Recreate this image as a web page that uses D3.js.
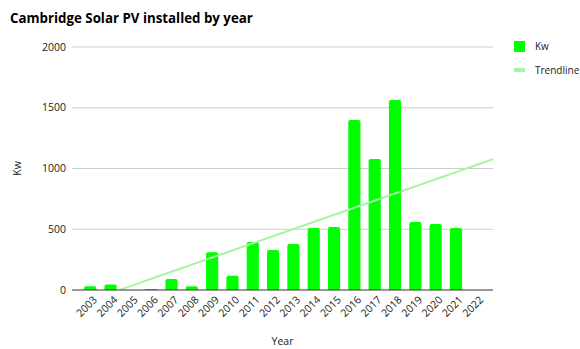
<!DOCTYPE html>
<html>
<head>
<meta charset="utf-8">
<script src="https://cdn.jsdelivr.net/npm/d3@7"></script>
<style>
  body { margin: 0; background: #fff; }
  text { font-family: "Open Sans", "DejaVu Sans", sans-serif; fill: #222; }
</style>
</head>
<body>
<div id="chart"></div>
<script>
// data
var years = ["2003","2004","2005","2006","2007","2008","2009","2010","2011","2012",
             "2013","2014","2015","2016","2017","2018","2019","2020","2021","2022"];
var kw = [30, 45, 0, 8, 90, 30, 310, 118, 395, 330,
          378, 510, 518, 1400, 1078, 1564, 560, 543, 510, null];
var yTicks = [0, 500, 1000, 1500, 2000];

var width = 580, height = 349;
var plot = {left: 72, right: 493, top: 47, bottom: 290};

var svg = d3.select("#chart").append("svg")
  .attr("width", width)
  .attr("height", height);

// x scale
var x = d3.scaleBand()
  .domain(years)
  .range([76, 490.5])
  .padding(0.4);

// y scale
var y = d3.scaleLinear()
  .domain([0, 2000])
  .range([plot.bottom, plot.top]);

// gridlines
svg.append("g")
  .selectAll("line")
  .data(yTicks.slice(1))
  .enter()
  .append("line")
    .attr("x1", plot.left)
    .attr("x2", plot.right)
    .attr("y1", function(d) { return y(d); })
    .attr("y2", function(d) { return y(d); })
    .attr("stroke", "#cccccc")
    .attr("stroke-width", 1);

// y tick labels
svg.append("g")
  .selectAll("text")
  .data(yTicks)
  .enter()
  .append("text")
    .attr("x", plot.left - 6)
    .attr("y", function(d) { return y(d); })
    .attr("dy", "0.35em")
    .attr("text-anchor", "end")
    .style("font-size", "10.5px")
    .text(function(d) { return d; });

// bars
var barData = [];
years.forEach(function(v, i) {
  if (kw[i] != null && kw[i] > 0) barData.push({year: v, value: kw[i]});
});

svg.append("g")
  .selectAll("path")
  .data(barData)
  .enter()
  .append("path")
    .attr("fill", "#00ff00")
    .attr("d", function(d) {
      var x0 = x(d.year), w = x.bandwidth();
      var y0 = y(d.value), y1 = y(0);
      var r = Math.min(2, (y1 - y0) / 2);
      return "M" + x0 + "," + y1 +
        "V" + (y0 + r) +
        "Q" + x0 + "," + y0 + " " + (x0 + r) + "," + y0 +
        "H" + (x0 + w - r) +
        "Q" + (x0 + w) + "," + y0 + " " + (x0 + w) + "," + (y0 + r) +
        "V" + y1 + "Z";
    });

// linear trendline (least squares over the years that have data)
var pts = [];
kw.forEach(function(v, i) { if (v != null) pts.push([i, v]); });
var mx = d3.mean(pts, function(p) { return p[0]; });
var my = d3.mean(pts, function(p) { return p[1]; });
var sxy = d3.sum(pts, function(p) { return (p[0] - mx) * (p[1] - my); });
var sxx = d3.sum(pts, function(p) { return (p[0] - mx) * (p[0] - mx); });
var slope = sxy / sxx, intercept = my - slope * mx;

var step = x.step();
var xCenter0 = x(years[0]) + x.bandwidth() / 2;
function idxAt(px) { return (px - xCenter0) / step; }
var trend = d3.range(plot.left, plot.right + 0.5, 1).map(function(px) {
  return [px, intercept + slope * idxAt(px)];
}).filter(function(p) { return p[1] >= 0; });

svg.append("path")
  .datum(trend)
  .attr("fill", "none")
  .attr("stroke", "#a6f5a0")
  .attr("stroke-width", 2)
  .attr("d", d3.line()
    .x(function(d) { return d[0]; })
    .y(function(d) { return y(d[1]); }));

// baseline
svg.append("line")
  .attr("x1", plot.left)
  .attr("x2", plot.right)
  .attr("y1", plot.bottom)
  .attr("y2", plot.bottom)
  .attr("stroke", "#333")
  .attr("stroke-width", 1);

// x tick labels
svg.append("g")
  .selectAll("text")
  .data(years)
  .enter()
  .append("text")
    .attr("transform", function(d) {
      return "translate(" + (x(d) + x.bandwidth() / 2 + 5) + "," + (plot.bottom + 8) + ") rotate(-45)";
    })
    .attr("text-anchor", "end")
    .attr("dy", "0.35em")
    .style("font-size", "10.5px")
    .text(function(d) { return d; });

// title
svg.append("text")
  .attr("x", 10)
  .attr("y", 23)
  .style("font-size", "13.3px")
  .style("font-weight", "bold")
  .style("fill", "#000")
  .text("Cambridge Solar PV installed by year");

// axis titles
svg.append("text")
  .attr("transform", "translate(21," + ((plot.top + plot.bottom) / 2) + ") rotate(-90)")
  .attr("text-anchor", "middle")
  .style("font-size", "10.5px")
  .text("Kw");

svg.append("text")
  .attr("x", (plot.left + plot.right) / 2)
  .attr("y", 345)
  .attr("text-anchor", "middle")
  .style("font-size", "10.5px")
  .text("Year");

// legend
var legend = svg.append("g").attr("transform", "translate(514,41)");
legend.append("rect")
  .attr("x", 0).attr("y", 0)
  .attr("width", 11).attr("height", 11)
  .attr("fill", "#00ff00");
legend.append("text")
  .attr("x", 21).attr("y", 5.5).attr("dy", "0.35em")
  .style("font-size", "10px")
  .text("Kw");
legend.append("line")
  .attr("x1", 0).attr("x2", 11)
  .attr("y1", 29).attr("y2", 29)
  .attr("stroke", "#a6f5a0")
  .attr("stroke-width", 4);
legend.append("text")
  .attr("x", 21).attr("y", 29).attr("dy", "0.35em")
  .style("font-size", "10px")
  .text("Trendline");
</script>
</body>
</html>
